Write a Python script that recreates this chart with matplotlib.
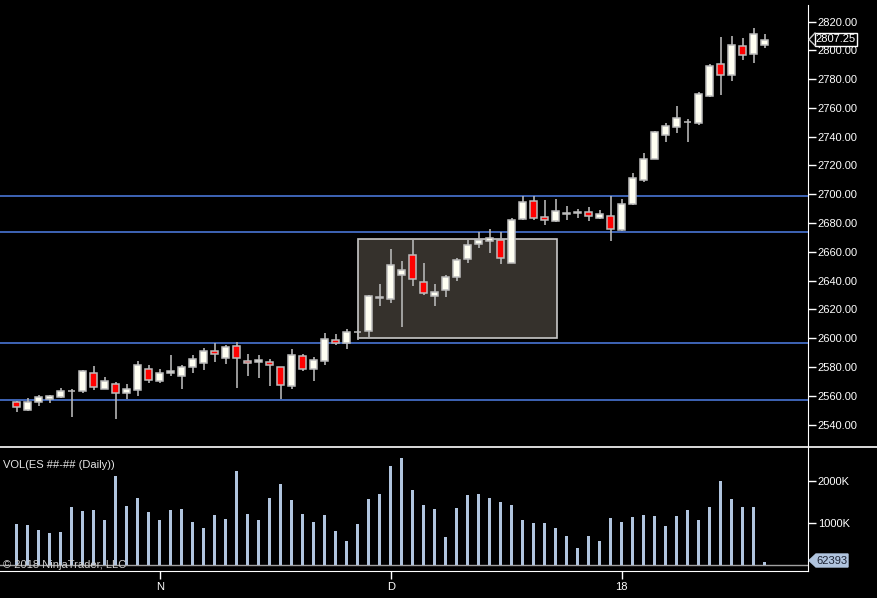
import matplotlib
matplotlib.use('Agg')
import matplotlib.pyplot as plt
from matplotlib.patches import Rectangle, Polygon
from matplotlib.lines import Line2D
from matplotlib.transforms import blended_transform_factory

plt.rcParams['font.family'] = ['Liberation Sans', 'DejaVu Sans']

opens  = [2555.75, 2550.5, 2555.5, 2558, 2559.5, 2563.25, 2563.5, 2575.75, 2565, 2568.25,
          2562.25, 2564.25, 2578.5, 2570.5, 2575.75, 2574, 2580.25, 2583, 2591, 2586.5,
          2594.5, 2584.5, 2583.25, 2583.25, 2579.75, 2567, 2587.5, 2579, 2584.5, 2598.5,
          2596.5, 2604.5, 2605.25, 2628.5, 2627.5, 2643.75, 2657.75, 2639, 2629.5, 2633.25,
          2642.25, 2655.25, 2665.75, 2667.75, 2668.5, 2652.5, 2683, 2695, 2684.5, 2681.75,
          2686.5, 2687.25, 2687.5, 2683.75, 2684.75, 2675.25, 2693.5, 2710.25, 2724.75, 2741.5,
          2746.5, 2750, 2749.75, 2768.5, 2790.25, 2782.5, 2803.25, 2797.25, 2804]
closes = [2552.5, 2555.5, 2559, 2559.75, 2563.25, 2563.25, 2577, 2566.5, 2570, 2561.75,
          2564.5, 2581.25, 2571.25, 2575.75, 2577.5, 2579.75, 2585.5, 2591.5, 2589.25, 2593.75,
          2586.5, 2582.5, 2584.75, 2581.25, 2567.75, 2588.25, 2579, 2584.75, 2599.25, 2597,
          2604.25, 2604.25, 2629.25, 2628.25, 2650.75, 2647.25, 2641, 2631.25, 2632, 2642.25,
          2654.25, 2664.5, 2668, 2669.5, 2656, 2682, 2694.5, 2683.75, 2682, 2688.25,
          2686.75, 2687.5, 2685.25, 2686, 2676, 2693, 2711, 2724.25, 2743, 2747.5,
          2753, 2750.25, 2769.5, 2788.75, 2782.5, 2804, 2796.5, 2811, 2807.25]
highs  = [2556.25, 2558.25, 2560.5, 2560.75, 2565.25, 2564.5, 2578, 2580.75, 2573, 2569.5,
          2568.25, 2584.25, 2581.5, 2578.75, 2588.5, 2581.75, 2588.5, 2593.25, 2596.5, 2595.5,
          2597.25, 2589, 2588.5, 2585.5, 2580, 2592.5, 2589, 2586.75, 2603.5, 2602.75,
          2606.25, 2606, 2630, 2637.75, 2662, 2653.75, 2668.25, 2652.25, 2637.75, 2644,
          2655.75, 2668.25, 2673.5, 2676, 2673.5, 2683.25, 2698.5, 2698.5, 2696, 2696.75,
          2692, 2689.75, 2691.25, 2689, 2698.5, 2696.5, 2715, 2729, 2744, 2749.25,
          2761, 2752.5, 2770.75, 2790.5, 2809.5, 2810, 2808.5, 2815.5, 2811]
lows   = [2548.75, 2549.75, 2553.25, 2555.25, 2558.75, 2545.5, 2562.25, 2564, 2564.75, 2544.25,
          2558, 2560.25, 2568.75, 2569.25, 2574, 2564.75, 2576, 2578, 2583.5, 2582,
          2565.75, 2574, 2572.75, 2567, 2558, 2565, 2577.5, 2570.5, 2581.75, 2595.25,
          2592.25, 2598.75, 2600, 2622.75, 2624.75, 2608, 2636.5, 2630, 2622.75, 2628.75,
          2639.75, 2652.25, 2662.75, 2659.5, 2651.5, 2652.5, 2682.25, 2682.25, 2679, 2680.75,
          2682.25, 2683.75, 2681.5, 2683, 2667.5, 2674.25, 2692.75, 2708.75, 2724.25, 2736.5,
          2742.75, 2736.5, 2748, 2767.25, 2769, 2779, 2793.25, 2791.5, 2801.75]
volumes_k = [976, 952, 832, 760, 784, 1384, 1288, 1312, 1072, 2127,
             1408, 1600, 1264, 1072, 1312, 1336, 1024, 880, 1192, 1096,
             2247, 1216, 1072, 1600, 1935, 1552, 1216, 1024, 1192, 808,
             568, 976, 1576, 1695, 2367, 2559, 1791, 1432, 1336, 664,
             1360, 1671, 1695, 1600, 1504, 1432, 1072, 1000, 1000, 880,
             688, 400, 688, 568, 1120, 1024, 1144, 1192, 1168, 928,
             1168, 1312, 1072, 1384, 2007, 1576, 1384, 1384, 62.393]

hlines = [2698.75, 2673.75, 2596.75, 2557.25]
box_x = [31.05, 49.15]
box_y = [2600.0, 2668.75]

x_tick_pos = [13, 34, 55]
x_tick_labels = ['N', 'D', '18']
price_ticks = [2540, 2560, 2580, 2600, 2620, 2640, 2660, 2680, 2700, 2720, 2740, 2760, 2780, 2800, 2820]
vol_ticks = [1000, 2000]
vol_tick_labels = ['1000K', '2000K']
last_price_label = '2807.25'
last_vol_label = '62393'

W, H = 877, 598
fig = plt.figure(figsize=(W / 100, H / 100), dpi=100, facecolor='black')

def fx(px):
    return px / W

def fy(py):
    return 1 - py / H

ax1 = fig.add_axes([0, fy(447), fx(808), fy(5) - fy(447)])
ax2 = fig.add_axes([0, fy(571), fx(808), fy(447) - fy(571)])
for ax in (ax1, ax2):
    ax.set_facecolor('black')
    for s in ('left', 'top', 'bottom', 'right'):
        ax.spines[s].set_visible(False)
    ax.spines['right'].set_visible(True)
    ax.spines['right'].set_color('white')
    ax.yaxis.tick_right()
    ax.tick_params(axis='y', colors='white', direction='out', length=6, width=1,
                   labelsize=8, pad=1)
    ax.set_xlim(-1.518, 71.94)

n = len(opens)
xs = list(range(n))

# price panel
ax1.set_ylim(2524.5, 2831.46)
ax1.set_xticks([])
ax1.set_yticks(price_ticks)
ax1.set_yticklabels(['%.2f' % t for t in price_ticks])

ax1.add_patch(Rectangle((box_x[0], box_y[0]), box_x[1] - box_x[0], box_y[1] - box_y[0],
                        facecolor='#35312c', edgecolor='#c8c8c8', linewidth=1.2, zorder=1))
for h in hlines:
    ax1.axhline(h, color='#4f7fe6', linewidth=1.1, zorder=2)

ax1.vlines(xs, lows, highs, color='#b4b4b4', linewidth=1.2, zorder=3)
bottoms = [min(o, c) for o, c in zip(opens, closes)]
heights = [max(abs(c - o), 0.3) for o, c in zip(opens, closes)]
colors = ['#fffff2' if c >= o else '#ff0000' for o, c in zip(opens, closes)]
ax1.bar(xs, heights, bottom=bottoms, width=0.6, color=colors, edgecolor='#bdbdbd',
        linewidth=1.1, zorder=4)

# volume panel
ax2.set_ylim(-151, 2822)
ax2.spines['bottom'].set_visible(True)
ax2.spines['bottom'].set_color('white')
ax2.axhline(0, color='#a0a0a0', linewidth=1, zorder=1)
ax2.bar(xs, volumes_k, width=0.22, color='#b0c4de', zorder=2)
ax2.set_yticks(vol_ticks)
ax2.set_yticklabels(vol_tick_labels)
ax2.set_xticks(x_tick_pos)
ax2.set_xticklabels(x_tick_labels)
ax2.tick_params(axis='x', colors='white', direction='out', length=6, width=1,
                labelsize=8, pad=2)

ax2.text(0.004, 0.855, 'VOL(ES ##-## (Daily))', transform=ax2.transAxes, color='#e6e6e6',
         fontsize=8, va='center', ha='left')
ax2.text(0.004, 0.05, '\u00a9 2018 NinjaTrader, LLC', transform=ax2.transAxes, color='#d0d0d0',
         fontsize=8, va='center', ha='left', zorder=5)

# separator line across full width
fig.add_artist(Line2D([0, 1], [fy(447), fy(447)], color='white', linewidth=1.2))

# last price tag
fig.add_artist(Rectangle((fx(815), fy(45.5)), fx(857) - fx(815), fy(33) - fy(45.5),
                         facecolor='black', edgecolor='white', linewidth=1, zorder=10))
fig.add_artist(Line2D([fx(815), fx(809), fx(815)], [fy(33), fy(39.5), fy(45.5)],
                      color='#c8c8c8', linewidth=1, zorder=11))
fig.text(fx(836), fy(39.5), last_price_label, color='white', fontsize=8, ha='center',
         va='center', zorder=12)

# last volume tag
fig.add_artist(Polygon([(fx(809), fy(560.5)), (fx(816), fy(554)), (fx(848), fy(554)),
                        (fx(848), fy(567)), (fx(816), fy(567))], closed=True,
                       facecolor='#b0c4de', edgecolor='#b0c4de', zorder=10))
fig.text(fx(832), fy(560.5), last_vol_label, color='#1c2233', fontsize=8, ha='center',
         va='center', zorder=12)

fig.savefig('out.png', dpi=100, facecolor='black')
